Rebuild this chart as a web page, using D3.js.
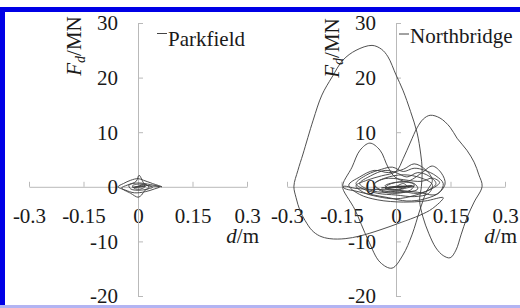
<!DOCTYPE html>
<html>
<head>
<meta charset="utf-8">
<script src="https://cdn.jsdelivr.net/npm/d3@7"></script>
<style>
  body { margin: 0; background: #fff; }
  svg { display: block; }
  text { font-family: "Liberation Serif", "Times New Roman", serif; fill: #1a1a1a; }
</style>
</head>
<body>
<div id="chart"></div>
<script>
// tick values
const dTicks = [-0.3, -0.15, 0, 0.15, 0.3];
const fTicks = [-20, -10, 0, 10, 20, 30];

// Parkfield hysteresis, [d (m), Fd (MN)]
const parkfield = [
  [0, 0], [0.012, 0.4], [0.02, 0.1], [0.008, -0.4], [-0.01, -0.3], [-0.015, 0.2],
  [0.005, 0.5], [0.025, 0.3], [0.03, -0.2], [0.01, -0.6], [-0.02, -0.4], [-0.025, 0.3],
  [0, 0.7], [0.035, 0.4], [0.066, 0.0], [0.04, 0.6], [0.015, 1.2], [0, 1.5],
  [-0.02, 1.2], [-0.04, 0.6], [-0.055, 0.0], [-0.035, -0.6], [-0.01, -1.1], [0.02, -0.9],
  [0.045, -0.4], [0.06, 0.0], [0.02, 0.4], [0.003, 2.1], [-0.005, 1.0], [-0.03, 0.3],
  [-0.045, -0.2], [-0.02, -1.2], [0, -1.9], [0.01, -1.5], [0.02, -0.6], [0.04, -0.1],
  [0.02, 0.3], [0, 0.1], [-0.01, -0.1], [0.02, 0.1], [-0.015, -0.1], [0.005, 0]
];

// Northbridge hysteresis, [d (m), Fd (MN)]
const northSmall = [
  [0, 0], [0.02, 0.6], [0.03, 0.1], [-0.01, -0.5], [-0.03, 0.2], [0.01, 0.9],
  [0.05, 0.6], [0.06, -0.4], [0.02, -1.0], [-0.04, -0.6], [-0.06, 0.5], [-0.03, 1.6],
  [0.02, 2.2], [0.07, 1.6], [0.1, 0.4], [0.09, -1.2], [0.05, -1.8], [0, -1.5],
  [-0.05, -1.2], [-0.09, -0.4], [-0.11, 0.6], [-0.08, 2.2], [-0.04, 3.2], [-0.01, 3.6],
  [0.02, 2.8], [0.05, 3.4], [0.08, 3.0], [0.11, 2.0], [0.13, 0.6], [0.12, -1.0],
  [0.08, -2.2], [0.03, -2.6], [-0.02, -2.0], [-0.07, -1.4], [-0.11, -0.8], [-0.146, 0]
];
const northHump = [
  [-0.121, 3.6], [-0.099, 6.7], [-0.072, 8.0], [-0.044, 6.7], [-0.022, 3.6], [-0.003, 1.8],
  [0.03, 1.0], [0.07, 2.5], [0.1, 3.8], [0.125, 2.5], [0.135, 0.5], [0.11, -1.4],
  [0.06, -1.0], [0.0, -0.6], [-0.06, -0.5], [-0.11, -0.3], [-0.146, 0]
];
const northTrough = [
  [-0.113, -4.2], [-0.077, -9.7], [-0.044, -13.8], [-0.011, -14.9], [0.019, -12.5], [0.044, -8.8],
  [0.066, -4.2], [0.083, -1.0], [0.1, 1.2], [0.08, 3.2], [0.05, 4.2], [0.02, 3.2],
  [-0.02, 2.6], [-0.06, 3.0], [-0.1, 1.8], [-0.13, 0.3], [-0.1, -1.4], [-0.05, -2.4],
  [0.02, -2.8], [0.08, -2.6], [0.13, -2.0]
];
const northBig = [
  [0.1, -4.0], [0.066, -5.2], [0.011, -6.6], [-0.044, -7.9], [-0.099, -9.0], [-0.14, -9.5],
  [-0.182, -9.5], [-0.21, -9.0], [-0.231, -8.0], [-0.25, -6.2], [-0.264, -4.4], [-0.275, -2.0],
  [-0.281, 0.1], [-0.27, 3.0], [-0.256, 6.0], [-0.228, 12.2], [-0.204, 16.8], [-0.176, 20.1],
  [-0.146, 23.2], [-0.11, 25.0], [-0.066, 25.9], [-0.04, 25.2], [-0.022, 23.8], [0.0, 20.5],
  [0.019, 17.7], [0.04, 13.8], [0.058, 9.9], [0.068, 6.0], [0.072, 3.2], [0.07, 0.1],
  [0.065, -2.5], [0.074, -5.5], [0.09, -8.5], [0.11, -11.2], [0.13, -12.6], [0.149, -13.0],
  [0.165, -11.6], [0.179, -8.8], [0.195, -5.7], [0.215, -2.8], [0.237, 0.1], [0.228, 2.2],
  [0.215, 4.5], [0.195, 6.7], [0.168, 8.9], [0.149, 10.9], [0.121, 12.6], [0.094, 13.1],
  [0.075, 12.4], [0.058, 10.8], [0.04, 8.2], [0.02, 5.2], [0.0, 2.8]
];
const northAfter = [
  [-0.04, 2.0], [-0.08, 1.2], [-0.11, 0.2], [-0.09, -1.0], [-0.05, -1.8], [0.0, -2.2],
  [0.05, -1.6], [0.09, -0.6], [0.11, 0.6], [0.09, 2.0], [0.06, 2.6], [0.03, 1.8],
  [0.0, 2.6], [-0.03, 3.0], [-0.07, 2.0], [-0.1, 0.6], [-0.08, -0.4], [-0.04, -1.0],
  [0.01, -0.8], [0.06, -1.2], [0.1, -0.3], [0.12, 0.8], [0.1, 1.6], [0.07, 1.0]
];
const northDecay = [
  [-0.03, 1.5], [-0.06, 0.4], [-0.04, -0.8], [0.0, -1.2], [0.04, -0.6], [0.05, 0.4],
  [0.02, 0.9], [-0.02, 0.4], [-0.03, -0.3], [0.0, -0.6], [0.03, -0.2], [0.05, 0.1],
  [-0.04, -0.2], [0.045, 0.2], [-0.03, -0.3], [0.04, 0.1], [-0.02, -0.1], [0.03, 0.05],
  [0.0, 0.1], [-0.01, -0.1], [0.01, 0.0]
];
const northbridge = northSmall.concat(northHump, northTrough, northBig, northAfter, northDecay);

const width = 520, height = 308;
const svg = d3.select('#chart').append('svg')
  .attr('width', width).attr('height', height);

// frame
svg.append('rect').attr('x', 0).attr('y', 7).attr('width', width).attr('height', 5).attr('fill', '#0000e6');
svg.append('rect').attr('x', 0).attr('y', 7).attr('width', 5).attr('height', height - 7).attr('fill', '#0000e6');
svg.append('rect').attr('x', 0).attr('y', 305).attr('width', width).attr('height', 3).attr('fill', '#b2b4f2');

const panels = [
  { name: 'Parkfield', data: parkfield, left: 29, right: 247, legX: 19, legY: 45.5, dashY: 33.5, titleY: 46 },
  { name: 'Northbridge', data: northbridge, left: 287, right: 505, legX: 3, legY: 42.5, dashY: 34, titleY: 48 }
];

const fontSize = 21;
const axisColor = '#b9b9b9';

panels.forEach(p => {
  const x = d3.scaleLinear().domain([-0.3, 0.3]).range([p.left, p.right]);
  const y = d3.scaleLinear().domain([-20, 30]).range([296, 23]);
  const x0 = x(0), y0 = y(0);

  const g = svg.append('g');

  // x axis (ticks point up)
  const gx = g.append('g')
    .attr('transform', `translate(0,${y0})`)
    .call(d3.axisBottom(x).tickValues(dTicks).tickFormat(d => String(d))
      .tickSizeInner(-5).tickSizeOuter(0).tickPadding(21));
  // y axis (ticks point right)
  const gy = g.append('g')
    .attr('transform', `translate(${x0},0)`)
    .call(d3.axisLeft(y).tickValues(fTicks).tickFormat(d => String(d))
      .tickSizeInner(-5).tickSizeOuter(0).tickPadding(20));

  [gx, gy].forEach(a => {
    a.selectAll('path, line').attr('stroke', axisColor).attr('stroke-width', 1);
    a.selectAll('text').attr('font-size', fontSize)
      .attr('font-family', '"Liberation Serif", "Times New Roman", serif')
      .attr('fill', '#1a1a1a');
  });
  gy.selectAll('text').attr('dy', '0.33em');

  // hysteresis curve
  const line = d3.line()
    .x(d => x(d[0])).y(d => y(d[1]))
    .curve(d3.curveCatmullRom.alpha(0.5));
  g.append('path')
    .datum(p.data)
    .attr('d', line)
    .attr('fill', 'none')
    .attr('stroke', '#3c3c3c')
    .attr('stroke-width', 0.9);

  // axis titles
  const xt = g.append('text')
    .attr('x', x(0.3) + 12).attr('y', 243)
    .attr('text-anchor', 'end').attr('font-size', fontSize);
  xt.append('tspan').attr('font-style', 'italic').text('d');
  xt.append('tspan').text('/m');

  const yt = g.append('text')
    .attr('transform', `translate(${x0 - 57},${p.titleY}) rotate(-90)`)
    .attr('text-anchor', 'middle').attr('font-size', fontSize);
  yt.append('tspan').attr('font-style', 'italic').text('F');
  yt.append('tspan').attr('font-style', 'italic').attr('font-size', 14).attr('dy', 4).text('d');
  yt.append('tspan').attr('dy', -4).text('/MN');

  // legend
  g.append('line')
    .attr('x1', x0 + p.legX).attr('x2', x0 + p.legX + 10)
    .attr('y1', p.dashY).attr('y2', p.dashY)
    .attr('stroke', '#444').attr('stroke-width', 1);
  g.append('text')
    .attr('x', x0 + p.legX + 11).attr('y', p.legY)
    .attr('font-size', fontSize)
    .text(p.name);
});
</script>
</body>
</html>
